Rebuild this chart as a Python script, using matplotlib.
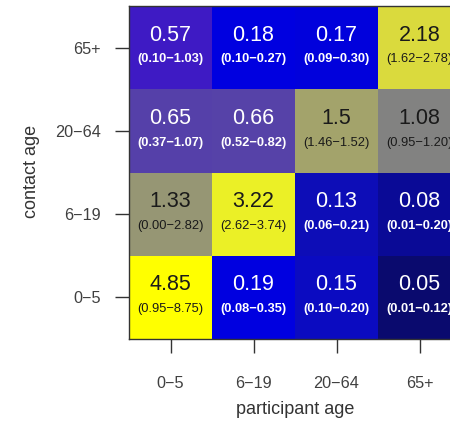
import numpy as np
import matplotlib
matplotlib.use('Agg')
from matplotlib import pyplot as plt
from matplotlib.colors import LinearSegmentedColormap, LogNorm

plt.rcParams['font.family'] = ['Liberation Sans', 'DejaVu Sans']

age_groups = ['0−5', '6−19', '20−64', '65+']

# rows = contact age (bottom to top), columns = participant age
ratio = np.array([[4.85, 0.19, 0.15, 0.05],
                  [1.33, 3.22, 0.13, 0.08],
                  [0.65, 0.66, 1.5, 1.08],
                  [0.57, 0.18, 0.17, 2.18]])
ci_low = np.array([[0.95, 0.08, 0.10, 0.01],
                   [0.00, 2.62, 0.06, 0.01],
                   [0.37, 0.52, 1.46, 0.95],
                   [0.10, 0.10, 0.09, 1.62]])
ci_high = np.array([[8.75, 0.35, 0.20, 0.12],
                    [2.82, 3.74, 0.21, 0.20],
                    [1.07, 0.82, 1.52, 1.20],
                    [1.03, 0.27, 0.30, 2.78]])

cmap = LinearSegmentedColormap.from_list('contact', [
    (0.0, '#0a0a6e'), (0.1, '#0a0a96'), (0.21, '#0e0eb8'), (0.24, '#0b0bc2'),
    (0.27, '#0000e0'), (0.30, '#0000e0'), (0.53, '#3c16c8'), (0.56, '#5540aa'),
    (0.67, '#828282'), (0.74, '#a0a06e'), (0.83, '#dcdc3c'), (0.91, '#ebf028'),
    (1.0, '#ffff00')])
norm = LogNorm(vmin=ratio.min(), vmax=ratio.max())

fig = plt.figure(figsize=(4.5, 4.21), dpi=100)
ax = fig.add_axes([129 / 450, 1 - 339 / 421, 332 / 450, 333 / 421])
ax.imshow(ratio, cmap=cmap, norm=norm, origin='lower', aspect='auto',
          extent=(-0.5, 3.5, -0.5, 3.5))

for i in range(4):
    for j in range(4):
        c = 'white' if ratio[i, j] < 1 else '#1a1a1a'
        ax.text(j, i + 0.15, f'{ratio[i, j]:g}', ha='center', va='center',
                fontsize=15.5, color=c)
        ax.text(j, i - 0.14, f'({ci_low[i, j]:.2f}−{ci_high[i, j]:.2f})',
                ha='center', va='center', fontsize=9.3, color=c,
                fontweight='bold' if c == 'white' else 'normal')

ax.set_xticks(range(4))
ax.set_yticks(range(4))
ax.set_xticklabels(age_groups)
ax.set_yticklabels(age_groups)
ax.tick_params(axis='both', length=10, width=1, color='#333333',
               labelcolor='#404040', labelsize=11.7)
ax.tick_params(axis='x', pad=17)
ax.tick_params(axis='y', pad=10.5)
for s in ax.spines.values():
    s.set_color('#333333')
    s.set_linewidth(1)

fig.text(31 / 450, 1 - 171.5 / 421, 'contact age', rotation=90, ha='center',
         va='center', fontsize=13, color='#333333')
fig.text(295 / 450, 1 - 410 / 421, 'participant age', ha='center',
         va='center', fontsize=13, color='#333333')

fig.savefig('out.png', dpi=100)
